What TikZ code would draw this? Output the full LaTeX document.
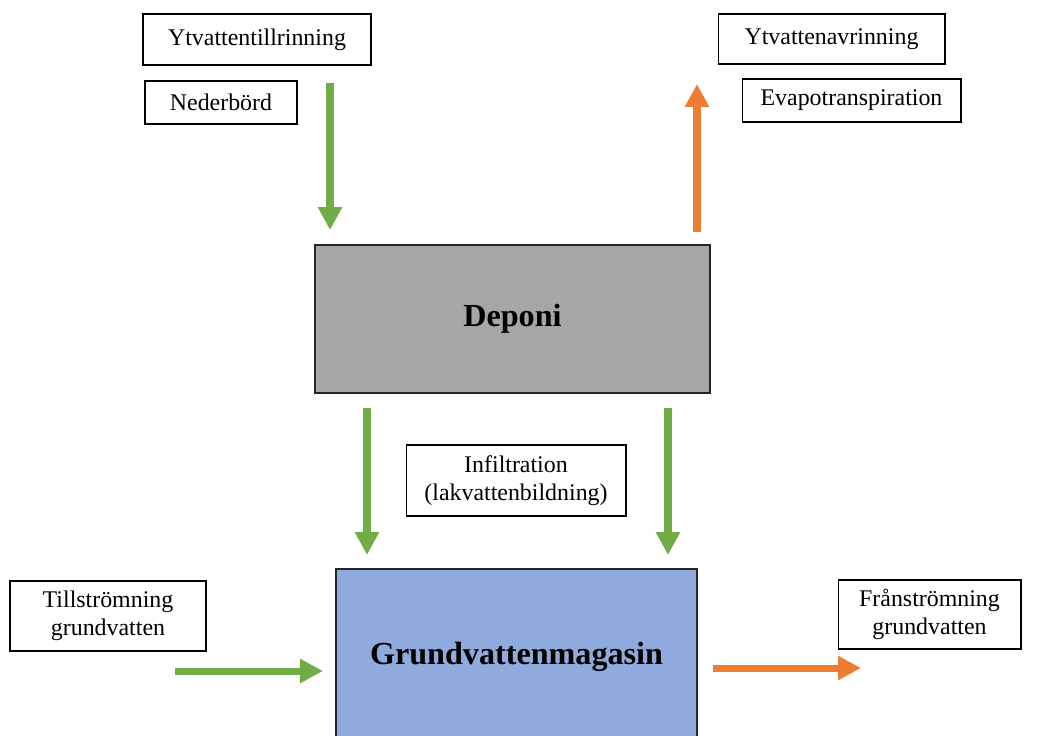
\documentclass[tikz,border=0pt]{standalone}
\usepackage{fontspec}
\setmainfont{Liberation Serif}
\usepackage{xcolor}
\usetikzlibrary{arrows.meta}

\definecolor{flowgreen}{HTML}{70AD47}
\definecolor{floworange}{HTML}{ED7D31}
\definecolor{depgray}{HTML}{A6A6A6}
\definecolor{gwblue}{HTML}{8FAADC}

\begin{document}
\begin{tikzpicture}[x=0.02cm, y=-0.02cm,
    labelbox/.style={draw=black, line width=0.6pt, fill=white, inner sep=0pt,
      align=center, font=\fontsize{13.6}{16}\selectfont},
    bigbox/.style={draw=black!85, line width=0.9pt, inner sep=0pt,
      font=\fontsize{18.3}{21}\selectfont\bfseries},
    inflow/.style={draw=flowgreen, line width=4pt, -{Triangle[length=13pt,width=13pt]}},
    outflow/.style={draw=floworange, line width=4pt, -{Triangle[length=13pt,width=13pt]}}]
    % Frame
    \useasboundingbox (0,0) rectangle (1044,735);
    \begin{scope}
    \clip (0,0) rectangle (1044,735);

    % Main boxes
    \node[bigbox, fill=depgray, minimum width=7.9cm, minimum height=2.96cm] (deponi) at (512.5,319) {Deponi};
    \node[bigbox, fill=gwblue, minimum width=7.22cm, minimum height=3.5cm] (magasin) at (516.5,656.5) {Grundvattenmagasin};

    % Labels
    \node[labelbox, minimum width=4.56cm, minimum height=1.02cm] (tillrinning) at (257,39.5) {Ytvattentillrinning};
    \node[labelbox, minimum width=3.04cm, minimum height=0.86cm] (nederbord) at (221,102.5) {Nederbörd};
    \node[labelbox, minimum width=4.54cm, minimum height=1cm] (avrinning) at (831.5,39) {Ytvattenavrinning};
    \node[labelbox, minimum width=4.38cm, minimum height=0.86cm] (evapo) at (851.5,100.5) {Evapotranspiration};
    \node[labelbox, minimum width=4.4cm, minimum height=1.42cm] (infiltration) at (516,480.5) {Infiltration\\(lakvattenbildning)};
    \node[labelbox, minimum width=3.92cm, minimum height=1.4cm] (tillstromning) at (108,616) {Tillströmning\\grundvatten};
    \node[labelbox, minimum width=3.66cm, minimum height=1.38cm] (franstromning) at (929.5,614.5) {Frånströmning\\grundvatten};

    % Arrow ends
    \coordinate (rain top) at (330,83);
    \coordinate (rain tip) at (330,230);
    \coordinate (evap foot) at (697,232);
    \coordinate (evap tip) at (697,84);
    \coordinate (leftinf top) at (367,408);
    \coordinate (leftinf tip) at (367,555);
    \coordinate (rightinf top) at (668,408);
    \coordinate (rightinf tip) at (668,555);
    \coordinate (gwin foot) at (175,671);
    \coordinate (gwin tip) at (323,671);
    \coordinate (gwout foot) at (713,668);
    \coordinate (gwout tip) at (861,668);

    % Flows
    \draw[inflow] (rain top) -- (rain tip);
    \draw[outflow] (evap foot) -- (evap tip);
    \draw[inflow] (leftinf top) -- (leftinf tip);
    \draw[inflow] (rightinf top) -- (rightinf tip);
    \draw[inflow] (gwin foot) -- (gwin tip);
    \draw[outflow] (gwout foot) -- (gwout tip);
    \end{scope}
\end{tikzpicture}
\end{document}
